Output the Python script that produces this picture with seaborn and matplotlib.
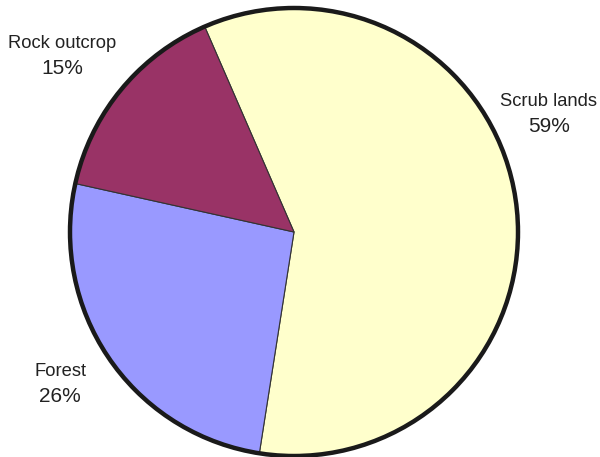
import matplotlib
matplotlib.use("Agg")
import matplotlib.pyplot as plt
import seaborn as sns
from matplotlib.patches import Circle

categories = ["Scrub lands", "Forest", "Rock outcrop"]
values = [59, 26, 15]
colors = ["#FFFFCC", "#9999FF", "#993366"]

sns.set_theme(style="white")
plt.rcParams["font.family"] = ["Liberation Sans", "DejaVu Sans"]

fig = plt.figure(figsize=(6.0, 4.57), dpi=100)
ax = fig.add_axes([0, 0, 1, 1])
ax.set_xlim(0, 600)
ax.set_ylim(0, 457)
ax.axis("off")

cx, cy, r = 294, 457 - 232, 224
wedges, _ = ax.pie(values, colors=colors, startangle=113.5, counterclock=False,
                   center=(cx, cy), radius=r, frame=True,
                   wedgeprops=dict(edgecolor="#333333", linewidth=0.8))
ax.set_xlim(0, 600)
ax.set_ylim(0, 457)
ax.set_aspect("auto")
ax.axis("off")
ax.add_patch(Circle((cx, cy), r, fill=False, edgecolor="#1a1a1a", linewidth=3.2, zorder=5))

# label anchor positions (pixel coordinates from top-left)
label_pos = {"Scrub lands": (549, 102), "Forest": (60, 372), "Rock outcrop": (62, 43)}
for cat, val in zip(categories, values):
    x, y = label_pos[cat]
    ax.text(x, 457 - y, cat, ha="center", va="center", fontsize=13.2, color="#222222")
    ax.text(x, 457 - y - 25, f"{val}%", ha="center", va="center", fontsize=15, color="#222222")

fig.savefig("out.png", dpi=100)
